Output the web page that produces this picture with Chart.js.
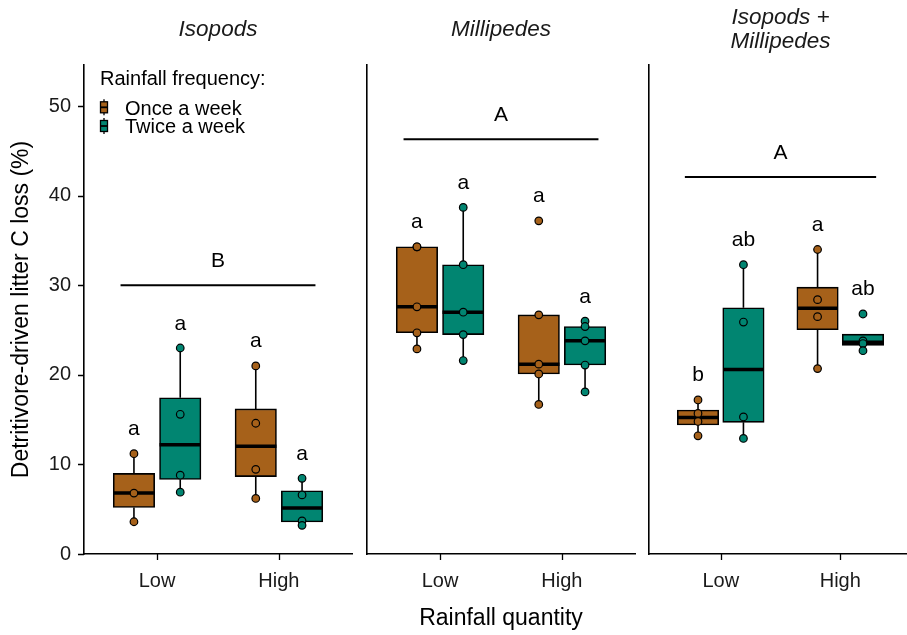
<!DOCTYPE html>
<html>
<head>
<meta charset="utf-8">
<script src="https://cdn.jsdelivr.net/npm/chart.js@4.4.1/dist/chart.umd.min.js"></script>
<style>
html, body { margin: 0; padding: 0; background: #fff; overflow: hidden; }
#wrap { position: relative; width: 907px; height: 635px; overflow: hidden; }
canvas { position: absolute; top: 0; }
</style>
</head>
<body>
<div id="wrap">
    <canvas id="p0" width="360" height="635" style="left:0px"></canvas>
    <canvas id="p1" width="282" height="635" style="left:360px"></canvas>
    <canvas id="p2" width="275" height="635" style="left:642px"></canvas>
</div>
<script>
const panels = ['Isopods', 'Millipedes', ['Isopods +', 'Millipedes']];
const quantities = ['Low', 'High'];
const frequencies = ['Once a week', 'Twice a week'];
const colors = ['#A6611A', '#018571'];
const yTicks = [0, 10, 20, 30, 40, 50];

// observations per box, order: Low-once, Low-twice, High-once, High-twice
const isopods = [
    [11.2, 6.8, 3.6],
    [23.0, 15.6, 8.8, 6.9],
    [21.0, 14.6, 9.45, 6.2],
    [8.45, 6.6, 3.7, 3.2]
];
const millipedes = [
    [34.3, 34.3, 27.6, 24.7, 22.9],
    [38.7, 32.3, 27.0, 24.5, 21.6],
    [37.2, 26.7, 21.2, 20.1, 16.7],
    [26.0, 25.4, 23.8, 21.1, 18.1]
];
const isopodsMillipedes = [
    [17.2, 15.7, 14.8, 13.2],
    [32.3, 25.9, 15.3, 12.9],
    [34.0, 28.4, 26.5, 20.7],
    [26.8, 23.8, 23.5, 22.7]
];
const letters = [
    ['a', 'a', 'a', 'a'],
    ['a', 'a', 'a', 'a'],
    ['b', 'ab', 'a', 'ab']
];
const groupLetters = ['B', 'A', 'A'];
const groupLineY = [30, 46.3, 42.1];

const FONT = '"Liberation Sans", Arial, sans-serif';
Chart.defaults.font.family = FONT;

const X_MIN = 0.4, X_MAX = 2.6;
const PX_PER_UNIT = 268 / (X_MAX - X_MIN);
const DODGE = 0.19;
const BOX_W = 0.34;
const TICK_LEN = 6;
const yWidth = [84, 7, 7];
const padRight = [8, 7, 0];

function quantile(s, p) {
    let h = (s.length - 1) * p;
    let lo = Math.floor(h);
    let next = lo + 1 < s.length ? s[lo + 1] : s[lo];
    return s[lo] + (h - lo) * (next - s[lo]);
}

function boxStats(vals) {
    let s = [...vals].sort((a, b) => a - b);
    let q1 = quantile(s, 0.25), med = quantile(s, 0.5), q3 = quantile(s, 0.75);
    let iqr = q3 - q1;
    let lo = Math.min(...s.filter(v => v >= q1 - 1.5 * iqr));
    let hi = Math.max(...s.filter(v => v <= q3 + 1.5 * iqr));
    return { q1, med, q3, lo, hi, max: s[s.length - 1] };
}

function makeChart(p) {
    let raw = [isopods, millipedes, isopodsMillipedes][p];
    let stats = raw.map(boxStats);
    let xs = stats.map((s, g) => Math.floor(g / 2) + 1 + (g % 2 ? DODGE : -DODGE));

    let whiskers = [], medians = [], pts = [], ptColors = [];
    stats.forEach((s, g) => {
        let x = xs[g];
        whiskers.push({x: x, y: s.lo}, {x: x, y: s.q1}, {x: x, y: null},
                      {x: x, y: s.q3}, {x: x, y: s.hi}, {x: x, y: null});
        medians.push({x: x - BOX_W / 2, y: s.med}, {x: x + BOX_W / 2, y: s.med}, {x: x, y: null});
        raw[g].forEach(v => {
            pts.push({x: x, y: v});
            ptColors.push(colors[g % 2]);
        });
    });

    let annotate = {
        id: 'annotate' + p,
        afterDatasetsDraw(chart) {
            let {ctx, scales: {x, y}} = chart;
            ctx.save();
            ctx.fillStyle = '#000';
            ctx.font = '21px ' + FONT;
            ctx.textAlign = 'center';
            ctx.textBaseline = 'alphabetic';
            stats.forEach((s, g) => {
                ctx.fillText(letters[p][g], x.getPixelForValue(xs[g]), y.getPixelForValue(s.max) - 18.5);
            });
            ctx.fillText(groupLetters[p], x.getPixelForValue(1.5), y.getPixelForValue(groupLineY[p]) - 18);
            ctx.restore();
        },
        afterDraw(chart) {
            let {ctx, chartArea, scales: {x, y}} = chart;
            ctx.save();

            // axis tick marks
            ctx.strokeStyle = '#000';
            ctx.lineWidth = 1.3;
            ctx.beginPath();
            x.ticks.forEach(t => {
                let px = Math.round(x.getPixelForValue(t.value)) + 0.5;
                ctx.moveTo(px, chartArea.bottom);
                ctx.lineTo(px, chartArea.bottom + TICK_LEN);
            });
            if (p === 0) {
                y.ticks.forEach(t => {
                    let py = Math.round(y.getPixelForValue(t.value)) + 0.5;
                    ctx.moveTo(chartArea.left, py);
                    ctx.lineTo(chartArea.left - TICK_LEN, py);
                });
            }
            ctx.stroke();

            ctx.fillStyle = '#1a1a1a';
            ctx.font = 'italic 22.5px ' + FONT;
            ctx.textAlign = 'center';
            ctx.textBaseline = 'alphabetic';
            let cx = (chartArea.left + chartArea.right) / 2;
            let title = panels[p];
            if (Array.isArray(title)) {
                ctx.fillText(title[0], cx, 24);
                ctx.fillText(title[1], cx, 48);
            } else {
                ctx.fillText(title, cx, 36);
            }

            if (p === 0) {
                ctx.textAlign = 'left';
                ctx.fillStyle = '#000';
                ctx.font = '20px ' + FONT;
                ctx.fillText('Rainfall frequency:', 100, 84.5);
                frequencies.forEach((f, i) => {
                    let cy = 107.3 + i * 18.7;
                    ctx.fillStyle = '#000';
                    ctx.fillText(f, 125, cy + 7.2);
                    ctx.strokeStyle = '#000';
                    ctx.lineWidth = 1.3;
                    ctx.beginPath();
                    ctx.moveTo(104, cy - 8);
                    ctx.lineTo(104, cy + 8);
                    ctx.stroke();
                    ctx.fillStyle = colors[i];
                    ctx.fillRect(100.5, cy - 5.5, 7, 11);
                    ctx.strokeRect(100.5, cy - 5.5, 7, 11);
                    ctx.lineWidth = 1.8;
                    ctx.beginPath();
                    ctx.moveTo(100.5, cy);
                    ctx.lineTo(107.5, cy);
                    ctx.stroke();
                });
            }
            ctx.restore();
        }
    };

    return new Chart(document.getElementById('p' + p), {
        type: 'scatter',
        data: {
            datasets: [
                {
                    type: 'scatter',
                    label: 'points',
                    data: pts,
                    order: 0,
                    pointRadius: 3.8,
                    pointHoverRadius: 3.8,
                    pointBorderWidth: 1.2,
                    pointBorderColor: '#000',
                    pointBackgroundColor: ptColors
                },
                {
                    type: 'line',
                    label: 'medians',
                    data: medians,
                    order: 1,
                    borderColor: '#000',
                    borderWidth: 3.5,
                    pointRadius: 0,
                    spanGaps: false
                },
                {
                    type: 'bar',
                    label: 'boxes',
                    data: stats.map((s, g) => ({x: xs[g], y: [s.q1, s.q3]})),
                    order: 2,
                    grouped: false,
                    barThickness: BOX_W * PX_PER_UNIT,
                    backgroundColor: stats.map((s, g) => colors[g % 2]),
                    borderColor: '#000',
                    borderWidth: 1.6,
                    borderSkipped: false
                },
                {
                    type: 'line',
                    label: 'whiskers',
                    data: whiskers,
                    order: 3,
                    borderColor: '#000',
                    borderWidth: 1.6,
                    pointRadius: 0,
                    spanGaps: false
                },
                {
                    type: 'line',
                    label: 'group',
                    data: [{x: 0.7, y: groupLineY[p]}, {x: 2.3, y: groupLineY[p]}],
                    order: 3,
                    borderColor: '#000',
                    borderWidth: 2,
                    pointRadius: 0
                }
            ]
        },
        options: {
            responsive: false,
            animation: false,
            events: [],
            layout: { padding: { top: 65, right: padRight[p], left: 0, bottom: 0 } },
            plugins: {
                legend: { display: false },
                tooltip: { enabled: false }
            },
            scales: {
                x: {
                    type: 'linear',
                    min: X_MIN,
                    max: X_MAX,
                    offset: false,
                    afterBuildTicks: s => { s.ticks = quantities.map((q, i) => ({value: i + 1})); },
                    afterFit: s => { s.height = 81; },
                    ticks: {
                        callback: v => quantities[v - 1],
                        color: '#1a1a1a',
                        font: { size: 20 },
                        padding: 15,
                        maxRotation: 0,
                        autoSkip: false
                    },
                    grid: { display: false, drawTicks: false },
                    border: { display: true, color: '#000', width: 1.6 },
                    title: {
                        display: p === 1,
                        text: 'Rainfall quantity',
                        color: '#000',
                        font: { size: 23 },
                        padding: { top: 4, bottom: 3 }
                    }
                },
                y: {
                    type: 'linear',
                    min: 0,
                    max: 54.6,
                    afterBuildTicks: s => { s.ticks = yTicks.map(v => ({value: v})); },
                    afterFit: s => { s.width = yWidth[p]; },
                    ticks: {
                        display: p === 0,
                        color: '#1a1a1a',
                        font: { size: 20 },
                        padding: 13
                    },
                    grid: { display: false, drawTicks: false },
                    border: { display: true, color: '#000', width: 1.6 },
                    title: {
                        display: p === 0,
                        text: 'Detritivore-driven litter C loss (%)',
                        color: '#000',
                        font: { size: 23 },
                        padding: { top: 8, bottom: 4 }
                    }
                }
            }
        },
        plugins: [annotate]
    });
}

let charts = [0, 1, 2].map(makeChart);
</script>
</body>
</html>
